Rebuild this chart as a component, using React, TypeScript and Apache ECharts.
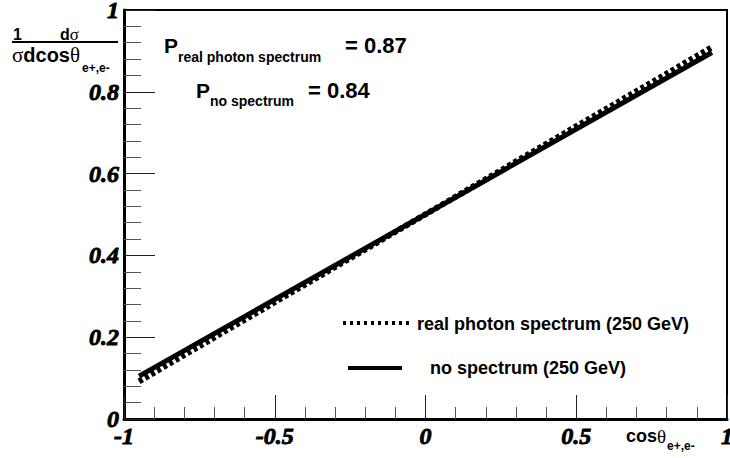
import React, { useEffect, useRef } from "react";
import * as echarts from "echarts";

const cosTheta = [-0.95, 0.95];
const realSpectrum = [0.092, 0.909];
const noSpectrum = [0.105, 0.896];
const xTicks = [-1, -0.5, 0, 0.5, 1];
const yTicks = [0, 0.2, 0.4, 0.6, 0.8, 1];
const legendNames = ["real photon spectrum (250 GeV)", "no spectrum (250 GeV)"];
const polarisations = ["0.87", "0.84"];

const SANS = "'Liberation Sans', Arial, sans-serif";
const SERIF = "'Liberation Serif', serif";
const TICK_FONT = "italic bold 24px 'Liberation Serif'";

function txt(text: string, x: number, y: number, size: number, extra: any = {}) {
  return {
    type: "text",
    x,
    y,
    silent: true,
    style: {
      text,
      fill: "#000",
      font: `bold ${size}px ${SANS}`,
      textAlign: "left",
      textVerticalAlign: "middle",
      verticalAlign: "middle",
      ...extra,
    },
  };
}

function mixed(text: string, x: number, y: number, size: number) {
  return {
    type: "text",
    x,
    y,
    silent: true,
    style: {
      text,
      fill: "#000",
      textAlign: "left",
      verticalAlign: "middle",
      rich: {
        b: { fontFamily: SANS, fontWeight: "bold", fontSize: size, fill: "#000", color: "#000" },
        s: { fontFamily: SERIF, fontWeight: "normal", fontSize: size + 1, fill: "#000", color: "#000" },
      },
    },
  };
}

export default function App() {
  const ref = useRef<HTMLDivElement>(null);
  useEffect(() => {
    if (!ref.current) return;
    const chart = echarts.init(ref.current, undefined, { renderer: "svg" });
    const staticGraphics: any[] = [
      txt("1", 13, 34, 16),
      mixed("{b|d}{s|\u03c3}", 60, 34, 16),
      { type: "line", silent: true, shape: { x1: 12, y1: 42, x2: 118, y2: 42 }, style: { stroke: "#000", lineWidth: 2 } },
      mixed("{s|\u03c3}{b|dcos}{s|\u03b8}", 12, 55, 20),
      txt("e+,e-", 82, 68, 12),
      mixed("{b|cos}{s|\u03b8}", 626, 436, 18),
      txt("e+,e-", 667, 446, 12),
      txt("P", 164, 45, 21),
      txt("real photon spectrum", 178, 57, 14),
      txt("= " + polarisations[0], 345, 45, 22),
      txt("P", 196, 90, 21),
      txt("no spectrum", 210, 101, 14),
      txt("= " + polarisations[1], 308, 90, 22),
      { type: "line", silent: true, shape: { x1: 343, y1: 323, x2: 409, y2: 323 }, style: { stroke: "#000", lineWidth: 4, lineDash: [3, 4] } },
      txt(legendNames[0], 417, 324, 18),
      { type: "line", silent: true, shape: { x1: 348, y1: 368, x2: 402, y2: 368 }, style: { stroke: "#000", lineWidth: 4 } },
      txt(legendNames[1], 430, 368, 18),
    ];
    chart.setOption({
      animation: false,
      backgroundColor: "#fff",
      grid: {
        left: 124,
        right: 3,
        top: 10,
        bottom: 39,
        show: true,
        borderColor: "#000",
        borderWidth: 2,
        backgroundColor: "transparent",
      },
      xAxis: {
        type: "value",
        min: -1,
        max: 1,
        interval: 0.5,
        axisLine: { show: true, onZero: false, lineStyle: { color: "#000", width: 3 } },
        axisTick: { show: true, inside: true, length: 24, lineStyle: { color: "#222", width: 1 } },
        minorTick: { show: true, splitNumber: 5, length: 12, lineStyle: { color: "#555", width: 1 } },
        splitLine: { show: false },
        axisLabel: { show: false },
      },
      yAxis: {
        type: "value",
        min: 0,
        max: 1,
        interval: 0.2,
        axisLine: { show: true, onZero: false, lineStyle: { color: "#000", width: 3 } },
        axisTick: { show: true, inside: true, length: 31, lineStyle: { color: "#222", width: 1 } },
        minorTick: { show: true, splitNumber: 5, length: 17, lineStyle: { color: "#555", width: 1 } },
        splitLine: { show: false },
        axisLabel: { show: false },
      },
      series: [
        {
          name: legendNames[0],
          type: "line",
          symbol: "none",
          z: 2,
          data: cosTheta.map((c, i) => [c, realSpectrum[i]]),
          lineStyle: { color: "#000", width: 6, type: [4, 3], cap: "butt" },
        },
        {
          name: legendNames[1],
          type: "line",
          symbol: "none",
          z: 3,
          data: cosTheta.map((c, i) => [c, noSpectrum[i]]),
          lineStyle: { color: "#000", width: 5, type: "solid", cap: "butt" },
        },
      ],
      graphic: staticGraphics,
    });
    // tick labels placed through the axes' own scales
    const tickStyle = (text: string, align: string, vAlign: string) => ({
      text,
      fill: "#000",
      stroke: "#000",
      lineWidth: 0.9,
      font: TICK_FONT,
      textAlign: align,
      textVerticalAlign: vAlign,
      verticalAlign: vAlign,
    });
    const xLabels = xTicks.map((v) => {
      const p = chart.convertToPixel({ gridIndex: 0 }, [v, 0]) as number[];
      return { type: "text", silent: true, x: p[0], y: p[1] + 5, style: tickStyle(String(v), "center", "top") };
    });
    const yLabels = yTicks.map((v) => {
      const p = chart.convertToPixel({ gridIndex: 0 }, [-1, v]) as number[];
      return { type: "text", silent: true, x: p[0] - 5, y: p[1], style: tickStyle(String(v), "right", "middle") };
    });
    chart.setOption({ graphic: [...staticGraphics, ...xLabels, ...yLabels] });
    return () => chart.dispose();
  }, []);
  return <div ref={ref} style={{ width: 730, height: 458, position: "absolute", left: 0, top: 0 }} />;
}
